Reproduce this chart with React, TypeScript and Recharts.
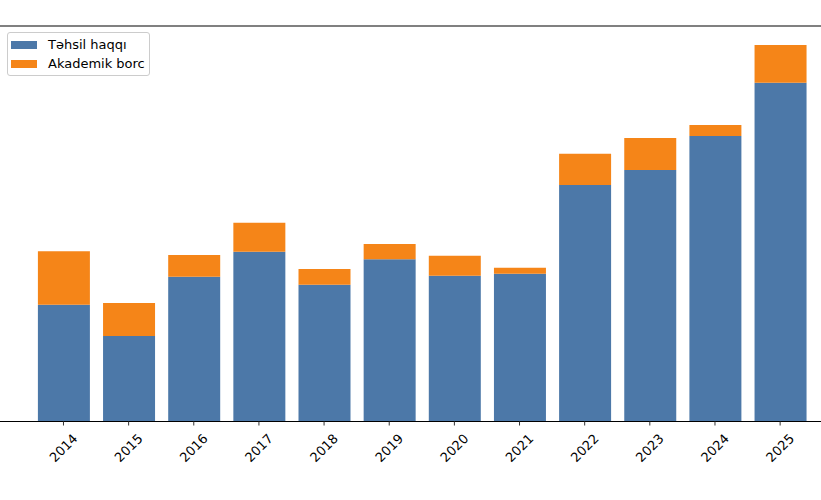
import React from "react";
import { BarChart, Bar, XAxis, YAxis, ReferenceLine, Legend } from "recharts";

const years = ["2014", "2015", "2016", "2017", "2018", "2019", "2020", "2021", "2022", "2023", "2024", "2025"];
const tuition = [116.8, 85.5, 144.8, 169.8, 136.8, 162.2, 145.8, 147.8, 236.5, 251.5, 285.5, 338.8];
const academicDebt = [53.4, 33, 21.7, 29, 15.7, 15.3, 20, 6, 31.3, 32, 11, 37.7];
const seriesNames = ["Təhsil haqqı", "Akademik borc"];
const colors = ["#4c78a8", "#f58518"];
const yMax = 395.5;

const data = years.map((y, i) => ({ year: y, a: tuition[i], b: academicDebt[i] }));

const FONT = "DejaVu Sans, sans-serif";

const Tick = (props: any) => {
  const { x, payload } = props;
  const cx = x;
  const cy = 448;
  return (
    <text
      x={cx}
      y={cy}
      textAnchor="middle"
      dominantBaseline="central"
      fontFamily={FONT}
      fontSize={13}
      fill="#000"
      transform={`rotate(-45, ${cx}, ${cy})`}
    >
      {payload.value}
    </text>
  );
};

const LegendBox = (props: any) => {
  const items = [...(props.payload || [])].sort(
    (p: any, q: any) => seriesNames.indexOf(p.value) - seriesNames.indexOf(q.value)
  );
  return (
    <div
      style={{
        boxSizing: "border-box",
        border: "1px solid #cccccc",
        borderRadius: 3,
        background: "rgba(255,255,255,0.8)",
        padding: "2px 4px 2px 3px",
        fontFamily: FONT,
        fontSize: 13,
        color: "#000",
        lineHeight: "19px",
        width: 143,
        height: 44,
      }}
    >
      {items.map((it: any) => (
        <div key={it.value} style={{ display: "flex", alignItems: "center", height: 19 }}>
          <span style={{ display: "inline-block", width: 26, height: 8, background: it.color, marginRight: 11, flexShrink: 0 }} />
          <span style={{ whiteSpace: "nowrap" }}>{it.value}</span>
        </div>
      ))}
    </div>
  );
};

export default function App() {
  return (
    <div style={{ position: "absolute", left: 0, top: 0, width: 821, height: 500, background: "#fff" }}>
      <BarChart width={821} height={500} data={data} margin={{ top: 26, right: 0, left: 0, bottom: 0 }}>
        <XAxis
          dataKey="year"
          height={78.5}
          padding={{ left: 30.9, right: 8.3 }}
          axisLine={{ stroke: "#000", strokeWidth: 1 }}
          tickLine={{ stroke: "#333", strokeWidth: 1 }}
          tickSize={4}
          interval={0}
          tick={<Tick />}
        />
        <YAxis hide domain={[0, yMax]} type="number" allowDataOverflow />
        <ReferenceLine y={yMax} stroke="#808080" strokeWidth={2} />
        <Legend
          layout="vertical"
          align="center"
          verticalAlign="middle"
          wrapperStyle={{ top: 32, left: 7, width: "auto", height: "auto" }}
          content={<LegendBox />}
        />
        <Bar dataKey="a" name={seriesNames[0]} stackId="s" fill={colors[0]} barSize={52} isAnimationActive={false} />
        <Bar dataKey="b" name={seriesNames[1]} stackId="s" fill={colors[1]} barSize={52} isAnimationActive={false} />
      </BarChart>
    </div>
  );
}
